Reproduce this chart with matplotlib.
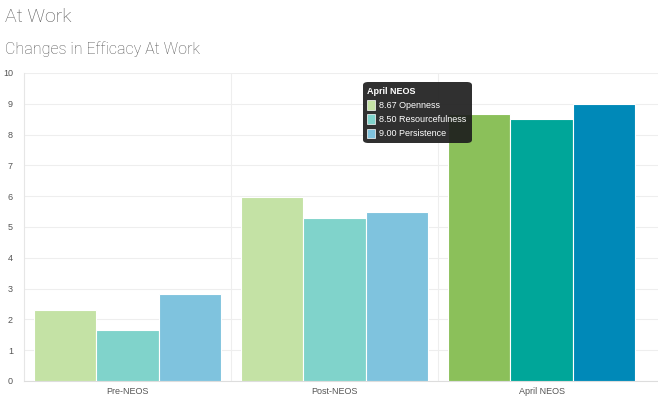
import numpy as np
import matplotlib
matplotlib.use("Agg")
import matplotlib.pyplot as plt
from matplotlib.patches import FancyBboxPatch, Rectangle

# data
categories = ["Pre-NEOS", "Post-NEOS", "April NEOS"]
series = ["Openness", "Resourcefulness", "Persistence"]
openness = [2.32, 5.98, 8.67]
resourcefulness = [1.66, 5.30, 8.50]
persistence = [2.82, 5.50, 9.00]
light_colors = ["#c4e2a5", "#80d3cb", "#7fc3de"]
dark_colors = ["#8bc05a", "#00a699", "#0089b8"]

W, H = 658, 398
fig = plt.figure(figsize=(W / 100, H / 100), dpi=100)
fig.patch.set_facecolor("white")
ax = fig.add_axes([24 / W, 17 / H, 634 / W, 308 / H])

x = np.arange(len(categories))
width = 0.3
values = [openness, resourcefulness, persistence]
for i, vals in enumerate(values):
    cols = [dark_colors[i] if j == len(categories) - 1 else light_colors[i]
            for j in range(len(categories))]
    ax.bar(x + (i - 1) * width, vals, width, color=cols,
           edgecolor="white", linewidth=0.8, zorder=3)

# categories cover ~621px of the 634px wide axes
ax.set_xlim(-0.5, len(categories) - 0.5 + 13 / 207)
ax.set_ylim(0, 10)
ax.set_yticks(range(0, 11))
ax.set_xticks(x)
ax.set_xticklabels(categories)
ax.tick_params(axis="both", length=0, labelsize=6.5, colors="#555555")
for lab in ax.get_xticklabels() + ax.get_yticklabels():
    lab.set_family("Liberation Sans")
ax.tick_params(axis="y", pad=8)
ax.tick_params(axis="x", pad=4)

# grid
ax.grid(axis="y", color="#eeeeee", linewidth=0.8, zorder=0)
for b in np.arange(0.5, len(categories) - 0.5, 1):
    ax.axvline(b, color="#eeeeee", linewidth=0.8, zorder=0)
for s in ["top", "right"]:
    ax.spines[s].set_visible(False)
ax.spines["left"].set_color("#e6e6e6")
ax.spines["bottom"].set_color("#dddddd")

# titles
fig.text(5 / W, 1 - 17 / H, "At Work", fontsize=14, family="Roboto",
         weight="light", color="#555555", va="center")
fig.text(5 / W, 1 - 49 / H, "Changes in Efficacy At Work", fontsize=11.5,
         family="Roboto", weight="light", color="#555555", va="center")

# tooltip
bx0, by0, bx1, by1 = 363, 82, 472, 143
box = FancyBboxPatch((bx0 / W, 1 - by1 / H), (bx1 - bx0) / W, (by1 - by0) / H,
                     boxstyle="round,pad=0,rounding_size=0.008",
                     transform=fig.transFigure, facecolor="#1e1e1e",
                     edgecolor="none", alpha=0.92, zorder=10)
fig.patches.append(box)
fig.text(367 / W, 1 - 91 / H, categories[-1], fontsize=6.5, weight="bold",
         family="Liberation Sans", color="white", va="center", zorder=11)
for i, vals in enumerate(values):
    yy = 105 + i * 14
    sq = Rectangle((367 / W, 1 - (yy + 4.5) / H), 8 / W, 9 / H,
                   transform=fig.transFigure, facecolor=light_colors[i],
                   edgecolor="white", linewidth=0.5, zorder=11)
    fig.patches.append(sq)
    fig.text(379 / W, 1 - yy / H, f"{vals[-1]:.2f} {series[i]}", fontsize=6.5,
             family="Liberation Sans", color="white", va="center", zorder=11)

fig.savefig("out.png", dpi=100)
